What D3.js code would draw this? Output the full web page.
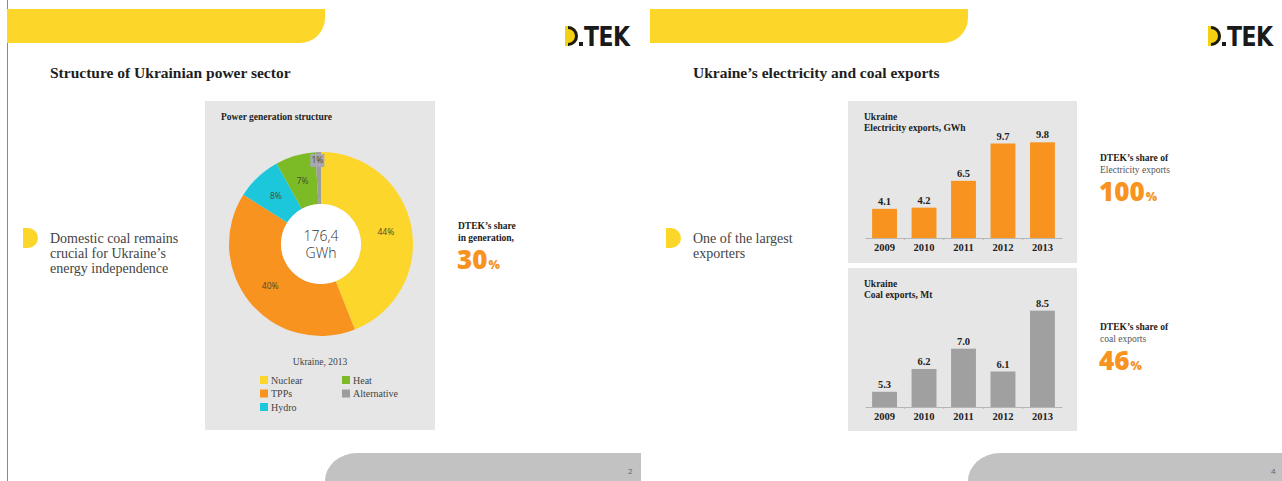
<!DOCTYPE html>
<html>
<head>
<meta charset="utf-8">
<script src="https://cdn.jsdelivr.net/npm/d3@7"></script>
<style>
  body { margin: 0; background: #fff; }
  svg { display: block; }
  .serif { font-family: "Liberation Serif", "DejaVu Serif", serif; }
  .sans { font-family: "Open Sans", "Noto Sans", sans-serif; }
</style>
</head>
<body>
<div id="wrapper"></div>
<script>
const W = 1282
const H = 481

// chart data
const sectors = ['Nuclear', 'TPPs', 'Hydro', 'Heat', 'Alternative']
const sectorShares = [44, 40, 8, 7, 1]
const sectorColors = ['#fcd62a', '#f7931e', '#1cc7db', '#7cbb26', '#9d9d9d']
const totalGen = ['176,4', 'GWh']

const years = ['2009', '2010', '2011', '2012', '2013']
const elecExports = [4.1, 4.2, 6.5, 9.7, 9.8]
const coalExports = [5.3, 6.2, 7.0, 6.1, 8.5]

const orange = '#f7931e'
const yellow = '#fdd62a'
const panelBg = '#e6e6e6'

const svg = d3.select('#wrapper').append('svg')
  .attr('width', W)
  .attr('height', H)

// ---------- slide frame (bands, logo, footer) ----------
function slideFrame(x0, title, pageNo) {
  // yellow band top left
  svg.append('path')
    .attr('d', `M${x0 + 7},9 H${x0 + 325} V18 A25,25 0 0 1 ${x0 + 300},43 H${x0 + 7} Z`)
    .attr('fill', yellow)

  // logo
  const lg = svg.append('g').attr('transform', `translate(${x0 + 565},26)`)
  lg.append('path')
    .attr('d', 'M0,0 H3 A10,10 0 0 1 3,20 H0 Z')
    .attr('fill', '#f5cf12')
  lg.append('path')
    .attr('d', 'M3,0 A10,10 0 0 1 3,20 V17 A7,7 0 0 0 3,3 Z')
    .attr('fill', '#1a1a1a')
  lg.append('rect').attr('x', 14).attr('y', 16).attr('width', 4).attr('height', 4).attr('fill', '#1a1a1a')
  lg.append('text')
    .attr('transform', 'translate(19,20) scale(1,1.2)')
    .attr('font-family', '"DejaVu Sans", sans-serif')
    .attr('font-weight', 700)
    .attr('font-size', 22)
    .attr('letter-spacing', -0.5)
    .attr('fill', '#1a1a1a')
    .text('TEK')

  svg.append('text')
    .attr('class', 'serif')
    .attr('x', x0 + 50).attr('y', 78)
    .attr('font-size', 15.5)
    .attr('font-weight', 700)
    .attr('fill', '#1e1e1e')
    .text(title)

  // grey footer
  svg.append('path')
    .attr('d', `M${x0 + 325},481 A32,28 0 0 1 ${x0 + 357},453 H${x0 + 641} V481 Z`)
    .attr('fill', '#c1c2c1')
  svg.append('text')
    .attr('class', 'sans')
    .attr('x', x0 + 628).attr('y', 474)
    .attr('font-size', 8)
    .attr('fill', '#666')
    .text(pageNo)
}

function bullet(x, y, lines) {
  svg.append('path')
    .attr('d', `M${x},${y - 10} H${x + 5} A10,10 0 0 1 ${x + 5},${y + 10} H${x} Z`)
    .attr('fill', yellow)
  const t = svg.append('text')
    .attr('class', 'serif')
    .attr('x', x + 27).attr('y', y + 5)
    .attr('font-size', 14)
    .attr('fill', '#444')
  lines.forEach((l, i) => {
    t.append('tspan').attr('x', x + 27).attr('dy', i ? 15 : 0).text(l)
  })
}

function shareNote(x, y, boldLine, lines, value) {
  const t = svg.append('text')
    .attr('class', 'serif')
    .attr('font-size', 9.5)
    .attr('fill', '#222')
  t.append('tspan').attr('x', x).attr('y', y).attr('font-weight', 700).text(boldLine)
  lines.forEach((l, i) => {
    t.append('tspan').attr('x', x).attr('dy', 11.5)
      .attr('font-weight', l.bold ? 700 : 400)
      .attr('fill', l.bold ? '#222' : '#555')
      .text(l.text)
  })
  const v = svg.append('text')
    .attr('class', 'sans')
    .attr('x', x - 1).attr('y', y + 11.5 * lines.length + 28)
    .attr('fill', orange)
    .attr('font-weight', 800)
  v.append('tspan').attr('font-size', 26).text(value)
  v.append('tspan').attr('font-size', 12).attr('dx', 1).text('%')
}

// left border line
svg.append('line')
  .attr('x1', 7.5).attr('x2', 7.5).attr('y1', 0).attr('y2', H)
  .attr('stroke', '#8a8a8a').attr('stroke-width', 1)

slideFrame(0, 'Structure of Ukrainian power sector', '2')
slideFrame(643, 'Ukraine\u2019s electricity and coal exports', '4')

bullet(23, 238, ['Domestic coal remains', 'crucial for Ukraine\u2019s', 'energy independence'])
bullet(666, 238, ['One of the largest', 'exporters'])

// ---------- donut panel ----------
svg.append('rect')
  .attr('x', 205).attr('y', 101).attr('width', 230).attr('height', 329)
  .attr('fill', panelBg)
svg.append('text')
  .attr('class', 'serif')
  .attr('x', 221).attr('y', 120)
  .attr('font-size', 9.5).attr('font-weight', 700).attr('fill', '#222')
  .text('Power generation structure')

const cx = 321
const cy = 244
const rOuter = 92
const rInner = 40

const pie = d3.pie().sort(null).value(d => d.share)
const pieData = pie(sectors.map((s, i) => ({ name: s, share: sectorShares[i], color: sectorColors[i] })))
const arc = d3.arc().innerRadius(rInner).outerRadius(rOuter)

const donut = svg.append('g').attr('transform', `translate(${cx},${cy})`)
donut.selectAll('path.slice')
  .data(pieData)
  .enter().append('path')
  .attr('class', 'slice')
  .attr('d', arc)
  .attr('fill', d => d.data.color)

// label positions: thin slices get pushed out to the rim
const labelArc = d => {
  const r = d.data.share < 3 ? rOuter - 8 : (rInner + rOuter) / 2
  return d3.arc().innerRadius(r).outerRadius(r).centroid(d)
}
pieData.filter(d => d.data.share < 3).forEach(d => {
  const c = labelArc(d)
  donut.append('rect')
    .attr('x', c[0] - 8).attr('y', c[1] - 6)
    .attr('width', 14).attr('height', 13)
    .attr('fill', '#a9a8b0')
})
donut.selectAll('text.pct')
  .data(pieData)
  .enter().append('text')
  .attr('class', 'pct sans')
  .attr('x', d => labelArc(d)[0] - (d.data.share < 3 ? 1 : 0))
  .attr('y', d => labelArc(d)[1] + 3)
  .attr('text-anchor', 'middle')
  .attr('font-size', 8.5)
  .attr('fill', '#4a4a2a')
  .text(d => d.data.share + '%')

donut.append('circle').attr('r', rInner).attr('fill', '#fff')
donut.selectAll('text.total')
  .data(totalGen)
  .enter().append('text')
  .attr('class', 'total sans')
  .attr('y', (d, i) => -3 + i * 17)
  .attr('text-anchor', 'middle')
  .attr('font-size', 14)
  .attr('font-weight', 300)
  .attr('fill', '#333')
  .text(d => d)

svg.append('text')
  .attr('class', 'serif')
  .attr('x', 320).attr('y', 365)
  .attr('text-anchor', 'middle')
  .attr('font-size', 9.5).attr('fill', '#444')
  .text('Ukraine, 2013')

const legend = svg.append('g')
const legendItems = legend.selectAll('g')
  .data(sectors)
  .enter().append('g')
  .attr('transform', (d, i) => `translate(${i < 3 ? 260 : 342},${376 + (i < 3 ? i : i - 3) * 13.5})`)
legendItems.append('rect')
  .attr('width', 8).attr('height', 8)
  .attr('fill', (d, i) => sectorColors[i])
legendItems.append('text')
  .attr('class', 'serif')
  .attr('x', 11).attr('y', 7.5)
  .attr('font-size', 10).attr('fill', '#444')
  .text(d => d)

shareNote(458, 229, 'DTEK\u2019s share', [{ text: 'in generation,', bold: true }], '30')

// ---------- bar panels ----------
function barPanel(top, height, titles, values, color, yDomain, baseY, topY) {
  svg.append('rect')
    .attr('x', 848).attr('y', top).attr('width', 229).attr('height', height)
    .attr('fill', panelBg)
  const t = svg.append('text')
    .attr('class', 'serif')
    .attr('font-size', 9.5).attr('font-weight', 700).attr('fill', '#222')
  titles.forEach((l, i) => {
    t.append('tspan').attr('x', 864).attr('y', top + 19 + i * 11).text(l)
  })

  const x = d3.scaleBand().domain(years).range([865, 1062]).paddingInner(0.37).paddingOuter(0.18)
  const y = d3.scaleLinear().domain(yDomain).range([baseY, topY])

  const g = svg.append('g')
  g.selectAll('rect.bar')
    .data(values)
    .enter().append('rect')
    .attr('class', 'bar')
    .attr('x', (d, i) => x(years[i]))
    .attr('width', x.bandwidth())
    .attr('y', d => y(d))
    .attr('height', d => baseY - y(d))
    .attr('fill', color)

  g.selectAll('text.val')
    .data(values)
    .enter().append('text')
    .attr('class', 'val serif')
    .attr('x', (d, i) => x(years[i]) + x.bandwidth() / 2)
    .attr('y', d => y(d) - 4)
    .attr('text-anchor', 'middle')
    .attr('font-size', 10.5).attr('font-weight', 700).attr('fill', '#222')
    .text(d => d.toFixed(1))

  const axis = svg.append('g')
    .attr('transform', `translate(0,${baseY})`)
    .call(d3.axisBottom(x).tickSize(0).tickPadding(6))
  axis.select('.domain').attr('stroke', '#b5b5b5')
  axis.selectAll('text')
    .attr('class', 'serif')
    .attr('font-size', 10.5).attr('font-weight', 700).attr('fill', '#222')
  // small separators between the bars
  axis.selectAll('line.sep')
    .data(years.slice(1))
    .enter().append('line')
    .attr('class', 'sep')
    .attr('x1', d => x(d) - x.step() * x.paddingInner() / 2)
    .attr('x2', d => x(d) - x.step() * x.paddingInner() / 2)
    .attr('y1', 0).attr('y2', 2)
    .attr('stroke', '#b5b5b5')
}

barPanel(101, 162, ['Ukraine', 'Electricity exports, GWh'], elecExports, orange, [1.6, 10], 238, 140)
barPanel(268, 163, ['Ukraine', 'Coal exports, Mt'], coalExports, '#a0a0a0', [4.7, 9], 407, 298)

shareNote(1100, 161, 'DTEK\u2019s share of', [{ text: 'Electricity exports' }], '100')
shareNote(1100, 330, 'DTEK\u2019s share of', [{ text: 'coal exports' }], '46')
</script>
</body>
</html>
